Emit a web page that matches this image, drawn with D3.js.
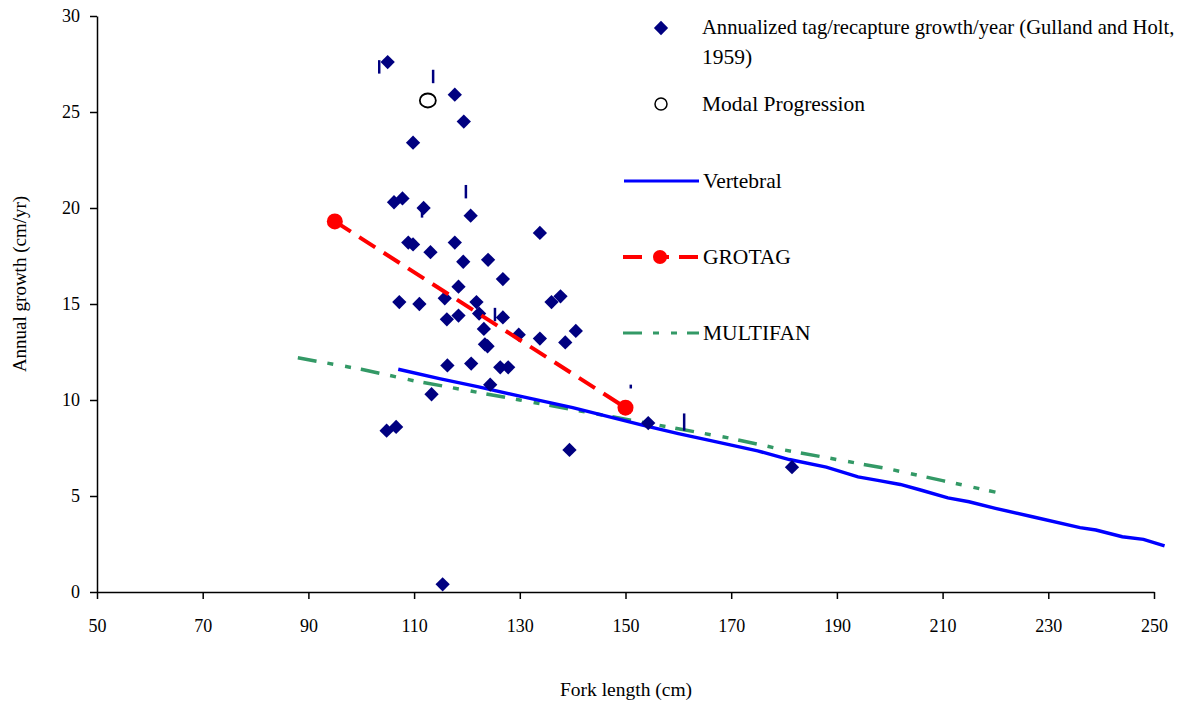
<!DOCTYPE html>
<html>
<head>
<meta charset="utf-8">
<script src="https://cdn.jsdelivr.net/npm/d3@7"></script>
<style>
  body { margin: 0; background: #fff; }
  svg text { font-family: "Liberation Serif", "Times New Roman", serif; fill: #000; }
</style>
</head>
<body>
<div id="chart"></div>
<script>
// tag/recapture points (fork length cm, growth cm/yr)
var tagX = [105.0, 117.7, 119.4, 109.8, 106.2, 107.8, 111.8, 120.7, 133.8, 108.9,
            109.8, 117.7, 113.1, 119.3, 124.0, 126.8, 118.4, 115.8, 107.2, 111.0,
            121.8, 136.0, 137.7, 122.3, 118.4, 116.2, 126.8, 123.2, 129.8, 133.8,
            140.6, 138.6, 123.4, 123.9, 116.3, 120.8, 126.3, 127.8, 124.4, 113.3,
            104.8, 106.6, 139.4, 154.3, 181.5, 115.4];
var tagY = [27.6, 25.9, 24.5, 23.4, 20.3, 20.5, 20.0, 19.6, 18.7, 18.2,
            18.1, 18.2, 17.7, 17.2, 17.3, 16.3, 15.9, 15.3, 15.1, 15.0,
            15.1, 15.1, 15.4, 14.5, 14.4, 14.2, 14.3, 13.7, 13.4, 13.2,
            13.6, 13.0, 12.9, 12.8, 11.8, 11.9, 11.7, 11.7, 10.8, 10.3,
            8.4, 8.6, 7.4, 8.8, 6.5, 0.4];

// stray error-bar fragments
var barX  = [103.4, 113.6, 119.8, 111.5, 125.3, 151.0, 161.1];
var barLo = [27.0, 26.5, 20.5, 19.5, 14.1, 10.6, 8.4];
var barHi = [27.7, 27.2, 21.2, 20.0, 14.8, 10.8, 9.3];

var modalX = [112.6];
var modalY = [25.6];

var vertX = [107, 115, 122, 130, 140, 153, 160, 167, 175, 181, 188, 194, 198, 202,
             206, 211, 215, 220, 227, 236, 239, 244, 248, 252];
var vertY = [11.6, 11.1, 10.7, 10.2, 9.6, 8.7, 8.25, 7.83, 7.35, 6.9, 6.5, 6.0, 5.8, 5.6,
             5.3, 4.9, 4.7, 4.36, 3.92, 3.35, 3.23, 2.88, 2.74, 2.4];

var grotagX = [95, 150];
var grotagY = [19.3, 9.6];

var multiX = [88, 100, 110, 120, 130, 140, 150, 160, 170, 180, 190, 200, 210, 220];
var multiY = [12.2, 11.6, 11.0, 10.5, 10.0, 9.5, 9.0, 8.5, 8.0, 7.4, 6.9, 6.4, 5.8, 5.2];

var xTicks = [50, 70, 90, 110, 130, 150, 170, 190, 210, 230, 250];
var yTicks = [0, 5, 10, 15, 20, 25, 30];

var margin = { top: 16, right: 31, bottom: 112, left: 97 };
var W = 1185, H = 704;
var width = W - margin.left - margin.right,
    height = H - margin.top - margin.bottom;

var svg = d3.select("#chart").append("svg")
    .attr("width", W)
    .attr("height", H);

var g = svg.append("g")
    .attr("transform", "translate(" + margin.left + "," + margin.top + ")");

var x = d3.scaleLinear().domain([50, 250]).range([0, width]);
var y = d3.scaleLinear().domain([0, 30]).range([height, 0]);

// axes
var xAxis = d3.axisBottom(x).tickValues(xTicks).tickSize(7).tickPadding(20).tickSizeOuter(0);
var yAxis = d3.axisLeft(y).tickValues(yTicks).tickSize(7).tickPadding(10).tickSizeOuter(0);

var gx = g.append("g").attr("class", "x-axis")
    .attr("transform", "translate(0," + height + ")")
    .call(xAxis);
var gy = g.append("g").attr("class", "y-axis").call(yAxis);

[gx, gy].forEach(function(a){
    a.selectAll("path, line").attr("stroke", "#000").attr("stroke-width", 1.5);
    a.selectAll("text").style("font-size", "18px").attr("fill", "#000");
});

svg.append("text")
    .attr("x", 626).attr("y", 696)
    .attr("text-anchor", "middle")
    .style("font-size", "19.5px")
    .text("Fork length (cm)");

svg.append("text")
    .attr("transform", "translate(26,284) rotate(-90)")
    .attr("text-anchor", "middle")
    .style("font-size", "19px")
    .text("Annual growth (cm/yr)");

var line = d3.line()
    .x(function(d){ return x(d[0]); })
    .y(function(d){ return y(d[1]); });

var vert = vertX.map(function(v, i){ return [v, vertY[i]]; });
var grotag = grotagX.map(function(v, i){ return [v, grotagY[i]]; });
var multi = multiX.map(function(v, i){ return [v, multiY[i]]; });

var navy = "#000080", blue = "#0000ff", red = "#ff0000", green = "#339966";
var multiDash = "19,11,6,12,6,10";
var redDash = "19,10";

g.append("path").datum(multi)
    .attr("d", line).attr("fill", "none")
    .attr("stroke", green).attr("stroke-width", 3.5)
    .attr("stroke-dasharray", multiDash);

g.append("path").datum(vert)
    .attr("d", line).attr("fill", "none")
    .attr("stroke", blue).attr("stroke-width", 3.4);

// error fragments
g.selectAll(".frag").data(barX).enter().append("line")
    .attr("class", "frag")
    .attr("x1", function(d){ return x(d); })
    .attr("x2", function(d){ return x(d); })
    .attr("y1", function(d, i){ return y(barLo[i]); })
    .attr("y2", function(d, i){ return y(barHi[i]); })
    .attr("stroke", navy).attr("stroke-width", 2.5);

var diamond = d3.symbol().type(d3.symbolDiamond2).size(130);
g.selectAll(".tag").data(tagX).enter().append("path")
    .attr("class", "tag")
    .attr("d", diamond)
    .attr("transform", function(d, i){ return "translate(" + x(d) + "," + y(tagY[i]) + ")"; })
    .attr("fill", navy);

g.append("path").datum(grotag)
    .attr("d", line).attr("fill", "none")
    .attr("stroke", red).attr("stroke-width", 4)
    .attr("stroke-dasharray", redDash);

g.selectAll(".gro").data(grotag).enter().append("circle")
    .attr("class", "gro")
    .attr("cx", function(d){ return x(d[0]); })
    .attr("cy", function(d){ return y(d[1]); })
    .attr("r", 8).attr("fill", red);

g.selectAll(".modal").data(modalX).enter().append("ellipse")
    .attr("class", "modal")
    .attr("cx", function(d){ return x(d); })
    .attr("cy", function(d, i){ return y(modalY[i]); })
    .attr("rx", 8).attr("ry", 7)
    .attr("fill", "#fff").attr("stroke", "#000").attr("stroke-width", 1.8);

// legend
var leg = svg.append("g");
var lfs = "21.5px";

leg.append("path").attr("d", diamond)
    .attr("transform", "translate(661,28)").attr("fill", navy);
leg.append("text").attr("x", 702).attr("y", 34).style("font-size", "20.6px")
    .text("Annualized tag/recapture growth/year (Gulland and Holt,");
leg.append("text").attr("x", 702).attr("y", 64).style("font-size", lfs)
    .text("1959)");

leg.append("ellipse").attr("cx", 661).attr("cy", 104).attr("rx", 6).attr("ry", 6)
    .attr("fill", "#fff").attr("stroke", "#000").attr("stroke-width", 1.5);
leg.append("text").attr("x", 702).attr("y", 111).style("font-size", lfs)
    .text("Modal Progression");

leg.append("line").attr("x1", 624).attr("x2", 699).attr("y1", 181).attr("y2", 181)
    .attr("stroke", blue).attr("stroke-width", 3);
leg.append("text").attr("x", 703).attr("y", 188).style("font-size", lfs)
    .text("Vertebral");

leg.append("line").attr("x1", 623).attr("x2", 699).attr("y1", 257).attr("y2", 257)
    .attr("stroke", red).attr("stroke-width", 4).attr("stroke-dasharray", "19,12,15,10,19");
leg.append("circle").attr("cx", 660).attr("cy", 257).attr("r", 7).attr("fill", red);
leg.append("text").attr("x", 703).attr("y", 264).style("font-size", lfs)
    .text("GROTAG");

leg.append("line").attr("x1", 623).attr("x2", 699).attr("y1", 333).attr("y2", 333)
    .attr("stroke", green).attr("stroke-width", 3).attr("stroke-dasharray", multiDash);
leg.append("text").attr("x", 703).attr("y", 340).style("font-size", lfs)
    .text("MULTIFAN");
</script>
</body>
</html>
